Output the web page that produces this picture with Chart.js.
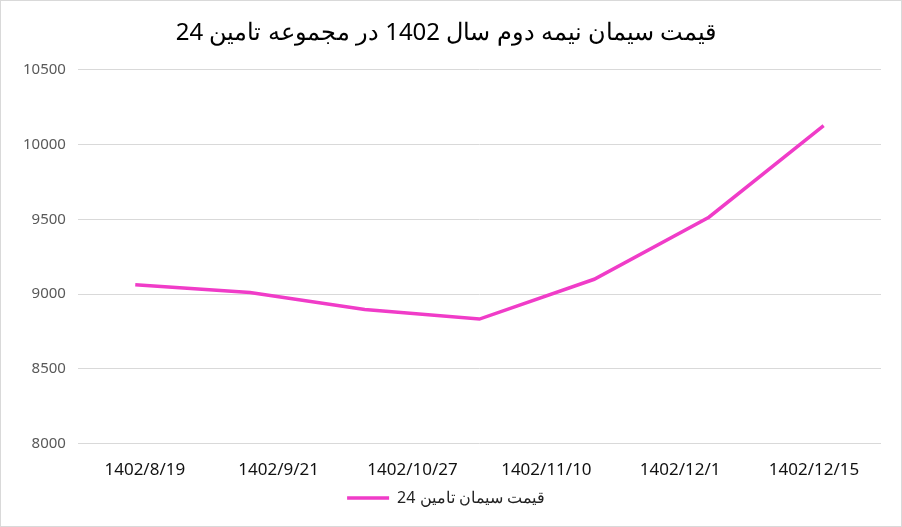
<!DOCTYPE html>
<html><head><meta charset="utf-8">
<script src="https://cdn.jsdelivr.net/npm/chart.js@4/dist/chart.umd.min.js"></script>
<style>html,body{margin:0;padding:0;background:#fff}#w{width:900px;height:525px;border:1px solid #d9d9d9}</style>
</head><body><div id="w"><canvas id="c"></canvas></div>
<script>
const pointLabels = ["p1","p2","p3","p4","p5","p6","p7"];
const tickLabels = ["1402/8/19","1402/9/21","1402/10/27","1402/11/10","1402/12/1","1402/12/15"];
const seriesName = "قیمت سیمان تامین 24";
const prices = [9063, 9010, 8897, 8833, 9099, 9514, 10127];
const titleText = "قیمت سیمان نیمه دوم سال 1402 در مجموعه تامین 24";
new Chart(document.getElementById('c'), {
  type: 'line',
  data: { labels: pointLabels, datasets: [{ label: seriesName, data: prices, borderColor: '#f03cc8', backgroundColor: '#f03cc8', borderWidth: 3.5, pointRadius: 0, tension: 0, xAxisID: 'x' }] },
  options: {
    responsive: true, maintainAspectRatio: false, animation: false,
    layout: { padding: { left: 10, right: 20, top: 12, bottom: 10 } },
    plugins: {
      title: { display: true, text: titleText, color: '#000', font: { family: 'Noto Sans', size: 24, weight: 'normal' }, padding: { top: 6, bottom: 22 } },
      legend: { position: 'bottom', labels: { font: { family: 'Noto Sans', size: 16 }, color: '#222', boxWidth: 42, boxHeight: 0, padding: 10 } },
      tooltip: { enabled: false }
    },
    scales: {
      x: { type: 'category', offset: true, display: true, ticks: { display: false }, grid: { display: false }, border: { display: false } },
      x2: { type: 'category', labels: tickLabels, offset: true, position: 'bottom', grid: { display: false }, border: { display: false }, ticks: { color: '#111', font: { family: 'Noto Sans', size: 17 }, padding: 0, maxRotation: 0 } },
      y: { min: 8000, max: 10500, ticks: { stepSize: 500, color: '#595959', font: { family: 'Noto Sans', size: 15 }, padding: 12, callback: v => String(v) }, grid: { color: '#d9d9d9', drawTicks: false }, border: { display: false } }
    }
  }
});
</script></body></html>
